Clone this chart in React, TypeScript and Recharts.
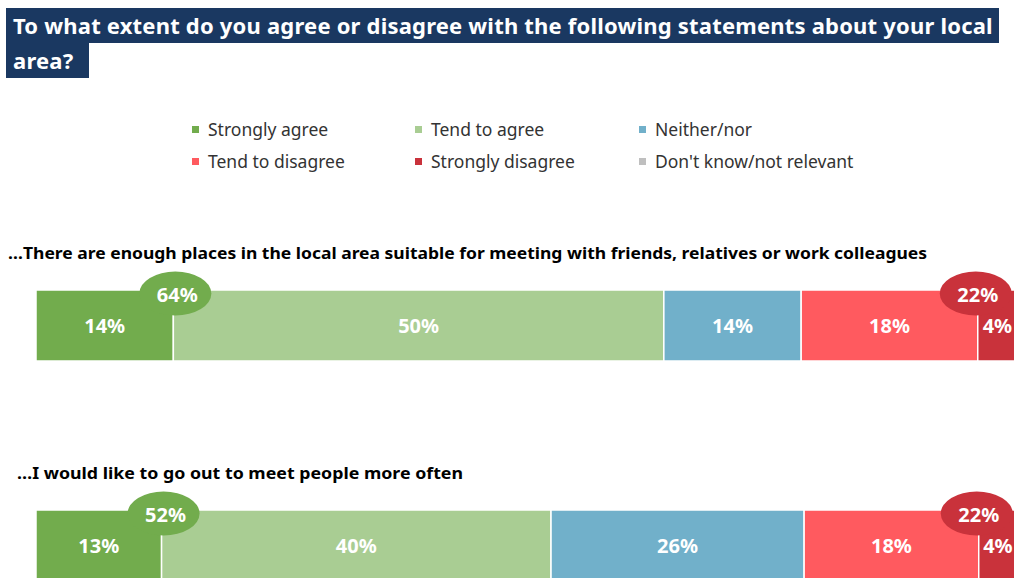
import { BarChart, Bar, XAxis, YAxis, LabelList } from "recharts"

const statements = [
  "…There are enough places in the local area suitable for meeting with friends, relatives or work colleagues",
  "…I would like to go out to meet people more often",
]
const stronglyAgree = [14, 12.8]
const tendToAgree = [50, 39.7]
const neither = [14, 25.8]
const tendToDisagree = [18, 17.8]
const stronglyDisagree = [4, 3.9]
const dontKnow = [0, 0]
const netAgree = [64, 52]
const netDisagree = [22, 22]

const seriesKeys = ["sa", "ta", "nn", "td", "sd", "dk"]
const seriesNames = ["Strongly agree", "Tend to agree", "Neither/nor", "Tend to disagree", "Strongly disagree", "Don't know/not relevant"]
const colors = ["#72AC4D", "#A9CD93", "#71B0CA", "#FF5A5F", "#C9323B", "#BFBFBF"]

const data = statements.map((name, i) => ({
  name,
  sa: stronglyAgree[i],
  ta: tendToAgree[i],
  nn: neither[i],
  td: tendToDisagree[i],
  sd: stronglyDisagree[i],
  dk: dontKnow[i],
}))

const FONT = "'Noto Sans', 'Open Sans', sans-serif"
// statement headings sit above each bar; second one is indented a little in the original
const headingX = [0, 9]
const headingWidth = [919, 446]

const heading = (props: any) => {
  const { y, index } = props
  return (
    <text
      key={`heading-${index}`}
      x={headingX[index]}
      y={Number(y) - 37}
      dy="0.35em"
      fontFamily={FONT}
      fontSize={16}
      fontWeight="bold"
      fill="#000"
      textLength={headingWidth[index]}
      lengthAdjust="spacingAndGlyphs"
    >
      {statements[index]}
    </text>
  )
}

const bubble = (nets: number[], color: string, dx: number) => (props: any) => {
  const { x, y, index } = props
  const cx = Number(x) + dx
  const cy = Number(y) + 3.5
  return (
    <g key={`bubble-${color}-${index}`}>
      <ellipse cx={cx} cy={cy} rx={36} ry={22} fill={color} />
      <text
        x={cx + 2}
        y={cy + 1}
        textAnchor="middle"
        dominantBaseline="central"
        fill="#fff"
        fontFamily={FONT}
        fontSize={20}
        fontWeight="bold"
      >
        {nets[index]}%
      </text>
    </g>
  )
}

const pct = (v: any) => `${Math.round(Number(v))}%`

const titleBox = {
  marginLeft: 6,
  height: 35,
  lineHeight: "35px",
  background: "#1A3861",
  color: "#fff",
  fontWeight: "bold" as const,
  fontSize: 22,
  letterSpacing: 0.2,
  paddingLeft: 7,
  boxSizing: "border-box" as const,
  whiteSpace: "nowrap" as const,
}

export default function App() {
  return (
    <div style={{ position: "relative", width: 1014, height: 578, overflow: "hidden", fontFamily: FONT, background: "#fff" }}>
      <style>{`body { margin: 0; }`}</style>
      <div style={{ height: 8 }} />
      <div style={{ ...titleBox, width: 993 }}>
        To what extent do you agree or disagree with the following statements about your local
      </div>
      <div style={{ ...titleBox, width: 83 }}>area?</div>

      <div style={{ position: "absolute", left: 8, top: 8 }}>
        <BarChart
          width={1009}
          height={660}
          data={data}
          layout="vertical"
          margin={{ top: 207, right: 0, bottom: 13, left: 28 }}
        >
          <XAxis type="number" domain={[0, 100]} hide />
          <YAxis type="category" dataKey="name" hide />
          {seriesKeys.map((key, s) => (
            <Bar
              key={key}
              dataKey={key}
              name={seriesNames[s]}
              stackId="a"
              fill={colors[s]}
              stroke="#fff"
              strokeWidth={1.5}
              barSize={71}
              isAnimationActive={false}
            >
              {key === "sa" && <LabelList dataKey="name" content={heading} />}
              {key !== "dk" && (
                <LabelList
                  dataKey={key}
                  position="center"
                  formatter={pct}
                  fill="#fff"
                  fontFamily={FONT}
                  fontSize={20}
                  fontWeight="bold"
                />
              )}
              {key === "ta" && <LabelList dataKey={key} content={bubble(netAgree, colors[0], 2)} />}
              {key === "sd" && <LabelList dataKey={key} content={bubble(netDisagree, colors[4], -2)} />}
            </Bar>
          ))}
        </BarChart>
      </div>

      <div
        style={{
          position: "absolute",
          left: 192,
          top: 117,
          display: "grid",
          gridTemplateColumns: "223px 224px 240px",
          rowGap: 8,
          fontSize: 17.5,
          color: "#333",
        }}
      >
        {seriesNames.map((n, s) => (
          <div key={n} style={{ display: "flex", alignItems: "center", height: 24, whiteSpace: "nowrap" }}>
            <span style={{ display: "inline-block", width: 7, height: 7, background: colors[s], marginRight: 9 }} />
            {n}
          </div>
        ))}
      </div>
    </div>
  )
}
